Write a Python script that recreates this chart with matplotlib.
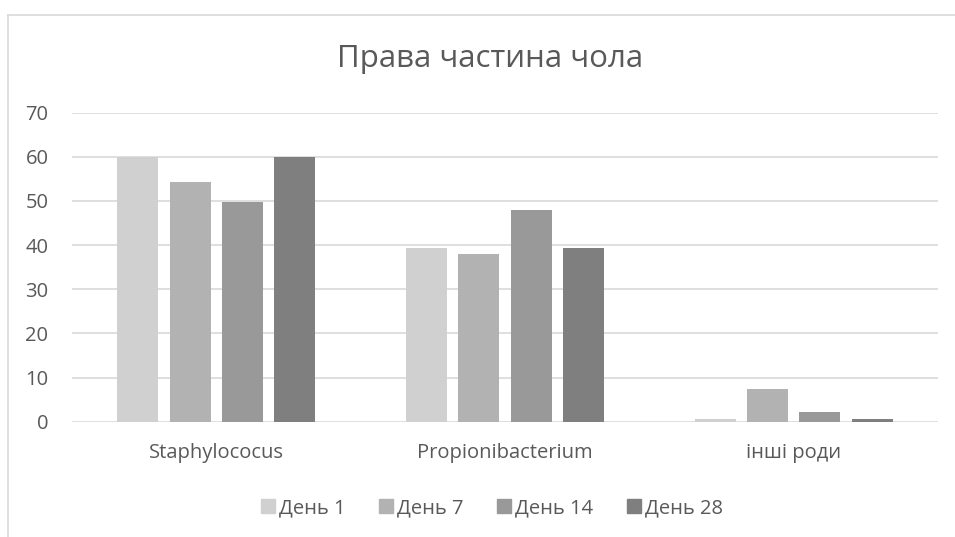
import numpy as np
import matplotlib
matplotlib.use("Agg")
import matplotlib.pyplot as plt
from matplotlib.patches import Rectangle
from matplotlib.lines import Line2D

plt.rcParams['font.family'] = ['Open Sans', 'DejaVu Sans']

title = "Права частина чола"
categories = ["Staphylococus", "Propionibacterium", "інші роди"]
series_names = ["День 1", "День 7", "День 14", "День 28"]
day1 = [60.0, 39.4, 0.6]
day7 = [54.2, 37.9, 7.5]
day14 = [49.7, 48.0, 2.2]
day28 = [60.0, 39.4, 0.6]
series_values = [day1, day7, day14, day28]
colors = ["#d0d0d0", "#b2b2b2", "#999999", "#7f7f7f"]
y_ticks = [0, 10, 20, 30, 40, 50, 60, 70]

text_color = "#595959"
grid_color = "#d9d9d9"

fig = plt.figure(figsize=(9.55, 5.37), dpi=100)
ax = fig.add_axes([72 / 955, 1 - 421.7 / 537, (938 - 72) / 955, (421.7 - 112.7) / 537])

x = np.arange(len(categories))
step = 0.181
width = 0.142
for i, (name, vals, c) in enumerate(zip(series_names, series_values, colors)):
    ax.bar(x + (i - 1.5) * step, vals, width=width, color=c, label=name, zorder=3)

ax.set_xlim(-0.5, len(categories) - 0.5)
ax.set_ylim(0, 70)
ax.set_yticks(y_ticks)
ax.set_yticklabels([str(t) for t in y_ticks])
ax.set_xticks(x)
ax.set_xticklabels(categories)
ax.yaxis.grid(True, color=grid_color, linewidth=1.2, zorder=0)
ax.set_axisbelow(True)
for s in ax.spines.values():
    s.set_visible(False)
ax.tick_params(axis='both', length=0, colors=text_color, labelsize=14.5)
ax.tick_params(axis='y', pad=17)
ax.tick_params(axis='x', pad=15)
for lbl in ax.get_yticklabels():
    lbl.set_horizontalalignment('right')

fig.text(0.5135, 1 - 59 / 537, title, ha='center', va='center', fontsize=22.5, color=text_color)

handles = [Rectangle((0, 0), 1, 1, color=c) for c in colors]
leg = fig.legend(handles, series_names, loc='center', bbox_to_anchor=(492 / 955, 1 - 508 / 537),
                 ncol=4, frameon=False, fontsize=14.5, handlelength=0.7, handleheight=0.7,
                 handletextpad=0.2, columnspacing=1.65, labelcolor=text_color)

# chart border (left and top edges)
fig.add_artist(Line2D([7.5 / 955, 7.5 / 955], [0, 1 - 14.5 / 537], transform=fig.transFigure,
                      color=grid_color, linewidth=1.2))
fig.add_artist(Line2D([7.5 / 955, 1], [1 - 14.5 / 537, 1 - 14.5 / 537], transform=fig.transFigure,
                      color=grid_color, linewidth=1.2))

fig.savefig("out.png", dpi=100, facecolor="white")
